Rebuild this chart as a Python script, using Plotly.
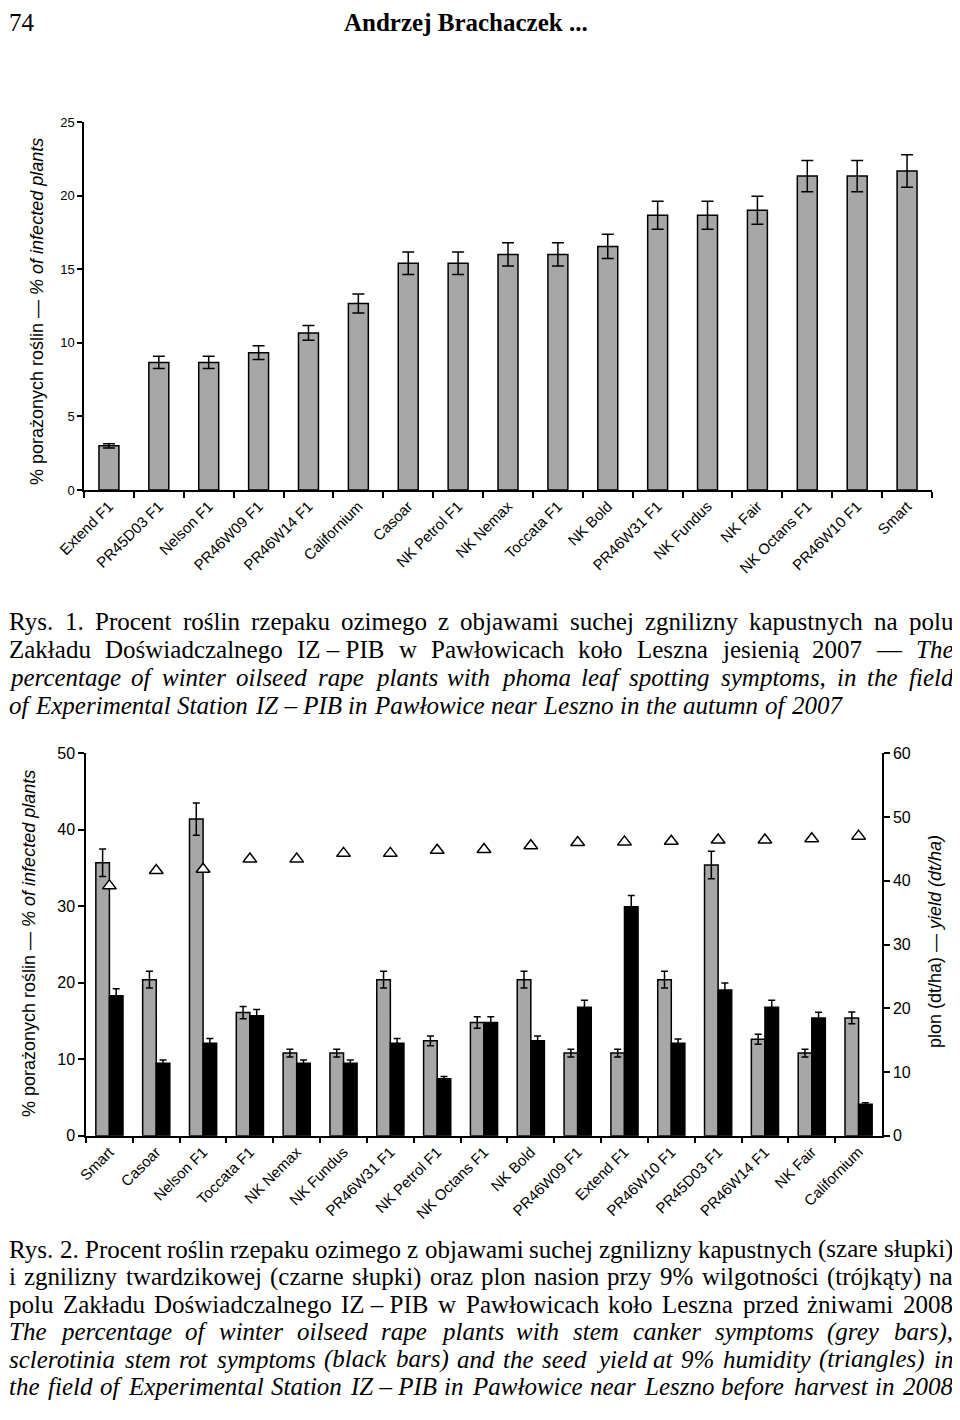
import plotly.graph_objects as go

# page body has an 8px margin: the figure is drawn at (8, 8) in the window
PAGE_OFF = 8
FIG_W, FIG_H = 952, 1404

# ---------------- data: figure 1 ----------------
top_categories = ["Extend F1", "PR45D03 F1", "Nelson F1", "PR46W09 F1", "PR46W14 F1",
                  "Californium", "Casoar", "NK Petrol F1", "NK Nemax", "Toccata F1",
                  "NK Bold", "PR46W31 F1", "NK Fundus", "NK Fair", "NK Octans F1",
                  "PR46W10 F1", "Smart"]
top_infected = [3.0, 8.67, 8.67, 9.33, 10.67, 12.67, 15.4, 15.4, 16.0, 16.0,
                16.55, 18.67, 18.67, 19.0, 21.33, 21.33, 21.67]
top_err = [0.15, 0.42, 0.42, 0.47, 0.5, 0.65, 0.76, 0.76, 0.79, 0.79,
           0.83, 0.95, 0.95, 0.95, 1.06, 1.06, 1.1]
top_yticks = [0, 5, 10, 15, 20, 25]

# ---------------- data: figure 2 ----------------
bot_categories = ["Smart", "Casoar", "Nelson F1", "Toccata F1", "NK Nemax", "NK Fundus",
                  "PR46W31 F1", "NK Petrol F1", "NK Octans F1", "NK Bold", "PR46W09 F1",
                  "Extend F1", "PR46W10 F1", "PR45D03 F1", "PR46W14 F1", "NK Fair",
                  "Californium"]
stem_canker = [35.7, 20.4, 41.4, 16.1, 10.8, 10.8, 20.4, 12.4, 14.8, 20.4, 10.8,
               10.8, 20.4, 35.4, 12.6, 10.8, 15.4]
stem_canker_err = [1.8, 1.1, 2.1, 0.8, 0.5, 0.5, 1.1, 0.65, 0.75, 1.1, 0.5,
                   0.5, 1.1, 1.8, 0.65, 0.5, 0.77]
sclerotinia = [18.3, 9.46, 12.1, 15.7, 9.46, 9.46, 12.1, 7.45, 14.8, 12.4, 16.8,
               29.95, 12.1, 19.05, 16.8, 15.4, 4.1]
sclerotinia_err = [0.9, 0.45, 0.6, 0.8, 0.45, 0.45, 0.6, 0.3, 0.75, 0.65, 0.9,
                   1.45, 0.55, 0.9, 0.9, 0.75, 0.2]
seed_yield = [39.2, 41.6, 41.8, 43.4, 43.4, 44.3, 44.3, 44.8, 44.9, 45.5, 46.0,
              46.1, 46.2, 46.4, 46.4, 46.6, 47.0]
bot_left_ticks = [0, 10, 20, 30, 40, 50]
bot_right_ticks = [0, 10, 20, 30, 40, 50, 60]

# ---------------- texts ----------------
header_page = "74"
header_title = "Andrzej Brachaczek ..."
y_title_pct = "% porażonych roślin — <i>% of infected plants</i>"
y_title_yield = "plon (dt/ha) — <i>yield (dt/ha)</i>"

# each line: list of (text, italic), justify flag
caption1 = [
    ([("Rys. 1. Procent roślin rzepaku ozimego z objawami suchej zgnilizny kapustnych na polu", False)], True),
    ([("Zakładu Doświadczalnego IZ – PIB w Pawłowicach koło Leszna jesienią 2007 —", False), ("The", True)], True),
    ([("percentage of winter oilseed rape plants with phoma leaf spotting symptoms, in the field", True)], True),
    ([("of Experimental Station IZ – PIB in Pawłowice near Leszno in the autumn of 2007", True)], False),
]
caption2 = [
    ([("Rys. 2. Procent roślin rzepaku ozimego z objawami suchej zgnilizny kapustnych (szare słupki)", False)], True),
    ([("i zgnilizny twardzikowej (czarne słupki) oraz plon nasion przy 9% wilgotności (trójkąty) na", False)], True),
    ([("polu Zakładu Doświadczalnego IZ – PIB w Pawłowicach koło Leszna przed żniwami 2008", False)], True),
    ([("The percentage of winter oilseed rape plants with stem canker symptoms (grey bars),", True)], True),
    ([("sclerotinia stem rot symptoms (black bars) and the seed yield at 9% humidity (triangles) in", True)], True),
    ([("the field of Experimental Station IZ – PIB in Pawłowice near Leszno before harvest in 2008", True)], True),
]

GREY = "#a7a7a7"
SANS = "Liberation Sans, Arial, sans-serif"
SERIF = "Liberation Serif, Times New Roman, serif"


def px_x(p):
    return (p - PAGE_OFF) / FIG_W


def px_y(p):
    return 1 - (p - PAGE_OFF) / FIG_H


fig = go.Figure()

# figure 1 bars
fig.add_trace(go.Bar(
    x=top_categories, y=top_infected, width=0.4,
    marker=dict(color=GREY, line=dict(color="black", width=1.5)),
    error_y=dict(type="data", array=top_err, color="black", thickness=1.5, width=6),
    xaxis="x", yaxis="y", showlegend=False, hoverinfo="skip"))

# figure 2 bars
fig.add_trace(go.Bar(
    x=bot_categories, y=stem_canker, width=0.29, offset=-0.29,
    marker=dict(color=GREY, line=dict(color="black", width=1.5)),
    error_y=dict(type="data", array=stem_canker_err, color="black", thickness=1.5, width=3.5),
    xaxis="x2", yaxis="y2", showlegend=False, hoverinfo="skip"))
fig.add_trace(go.Bar(
    x=bot_categories, y=sclerotinia, width=0.29, offset=0,
    marker=dict(color="black", line=dict(color="black", width=1.5)),
    error_y=dict(type="data", array=sclerotinia_err, color="black", thickness=1.5, width=3.5),
    xaxis="x2", yaxis="y2", showlegend=False, hoverinfo="skip"))
fig.add_trace(go.Scatter(
    x=bot_categories, y=seed_yield, mode="markers",
    marker=dict(symbol="triangle-up", size=12, color="white", line=dict(color="black", width=1.5)),
    xaxis="x2", yaxis="y3", showlegend=False, hoverinfo="skip"))

axis_common = dict(showline=True, linecolor="black", linewidth=1.5, showgrid=False,
                   zeroline=False, ticks="outside", tickcolor="black", tickwidth=1.5,
                   automargin=False)

fig.update_layout(
    width=FIG_W, height=FIG_H, margin=dict(l=0, r=0, t=0, b=0, autoexpand=False),
    paper_bgcolor="white", plot_bgcolor="white", barmode="overlay",
    font=dict(family=SANS, color="black"),
    xaxis=dict(domain=[px_x(84), px_x(932)], anchor="y", type="category",
               range=[-0.5, 16.5], tickson="boundaries", ticklen=6, tickangle=-45,
               tickfont=dict(size=15, family=SANS), **axis_common),
    yaxis=dict(domain=[px_y(490), px_y(122)], anchor="x", range=[0, 25],
               tickvals=top_yticks, ticklen=5, tickfont=dict(size=13, family=SANS),
               **axis_common),
    xaxis2=dict(domain=[px_x(86), px_x(882)], anchor="y2", type="category",
                range=[-0.5, 16.5], tickson="boundaries", ticklen=6, tickangle=-45,
                tickfont=dict(size=15, family=SANS), **axis_common),
    yaxis2=dict(domain=[px_y(1135.7), px_y(753.3)], anchor="x2", range=[0, 50],
                tickvals=bot_left_ticks, ticklen=6, tickfont=dict(size=16, family=SANS),
                **axis_common),
    yaxis3=dict(overlaying="y2", side="right", anchor="x2", range=[0, 60],
                tickvals=bot_right_ticks, ticklen=6, tickfont=dict(size=16, family=SANS),
                **axis_common),
)

annotations = []

# axis titles
annotations.append(dict(x=px_x(37), y=px_y(312), xref="paper", yref="paper",
                        text=y_title_pct, textangle=-90, showarrow=False,
                        font=dict(size=18, family=SANS), xanchor="center", yanchor="middle"))
annotations.append(dict(x=px_x(29), y=px_y(944), xref="paper", yref="paper",
                        text=y_title_pct, textangle=-90, showarrow=False,
                        font=dict(size=18, family=SANS), xanchor="center", yanchor="middle"))
annotations.append(dict(x=px_x(935), y=px_y(942), xref="paper", yref="paper",
                        text=y_title_yield, textangle=-90, showarrow=False,
                        font=dict(size=18, family=SANS), xanchor="center", yanchor="middle"))

# header (kept fully inside the drawable area)
annotations.append(dict(x=px_x(8), y=px_y(8), xref="paper", yref="paper", text=header_page,
                        showarrow=False, xanchor="left", yanchor="top", borderpad=0,
                        font=dict(size=25, family=SERIF)))
annotations.append(dict(x=px_x(343), y=px_y(8), xref="paper", yref="paper",
                        text="<b>" + header_title + "</b>", showarrow=False, borderpad=0,
                        xanchor="left", yanchor="top", font=dict(size=25, family=SERIF)))

# ---- justified caption text (Times metrics, per 1000 em) ----
ROMAN = {' ': 250, '%': 833, '(': 333, ')': 333, ',': 250, '-': 333, '.': 250, '–': 500, '—': 1000,
         'A': 722, 'B': 667, 'C': 667, 'D': 722, 'E': 611, 'F': 556, 'G': 722, 'H': 722, 'I': 333,
         'J': 389, 'K': 722, 'L': 611, 'M': 889, 'N': 722, 'O': 722, 'P': 556, 'Q': 722, 'R': 667,
         'S': 556, 'T': 611, 'U': 722, 'V': 722, 'W': 944, 'X': 722, 'Y': 722, 'Z': 611,
         'a': 444, 'b': 500, 'c': 444, 'd': 500, 'e': 444, 'f': 333, 'g': 500, 'h': 500, 'i': 278,
         'j': 278, 'k': 500, 'l': 278, 'm': 778, 'n': 500, 'o': 500, 'p': 500, 'q': 500, 'r': 333,
         's': 389, 't': 278, 'u': 500, 'v': 500, 'w': 722, 'x': 500, 'y': 500, 'z': 444}
ITALIC = {' ': 250, '%': 833, '(': 333, ')': 333, ',': 250, '-': 333, '.': 250, '–': 500, '—': 889,
          'A': 611, 'B': 611, 'C': 667, 'D': 722, 'E': 611, 'F': 611, 'G': 722, 'H': 722, 'I': 333,
          'J': 444, 'K': 667, 'L': 556, 'M': 833, 'N': 667, 'O': 722, 'P': 611, 'Q': 722, 'R': 611,
          'S': 500, 'T': 556, 'U': 722, 'V': 611, 'W': 833, 'X': 611, 'Y': 556, 'Z': 556,
          'a': 500, 'b': 500, 'c': 444, 'd': 500, 'e': 444, 'f': 278, 'g': 500, 'h': 500, 'i': 278,
          'j': 278, 'k': 444, 'l': 278, 'm': 722, 'n': 500, 'o': 500, 'p': 500, 'q': 500, 'r': 389,
          's': 389, 't': 278, 'u': 500, 'v': 444, 'w': 667, 'x': 444, 'y': 444, 'z': 389}
BASE = {'ś': 's', 'ł': 'l', 'ą': 'a', 'ż': 'z', 'ó': 'o', 'ę': 'e', 'ń': 'n', 'ć': 'c', 'ź': 'z'}

CAP_FS = 25
LEFT, RIGHT = 8, 952


def word_w(word, italic):
    tab = ITALIC if italic else ROMAN
    tot = 0
    for ch in word:
        ch = BASE.get(ch, ch)
        tot += tab.get(ch, 500)
    return tot / 1000 * CAP_FS


def add_caption(lines, y0, step):
    for li, (segs, justify) in enumerate(lines):
        words = []
        for text, it in segs:
            toks = text.split(" ")
            merged = []
            i = 0
            while i < len(toks):
                if toks[i] == "IZ" and i + 2 < len(toks) and toks[i + 1] == "–":
                    merged.append("IZ – " + toks[i + 2])
                    i += 3
                else:
                    merged.append(toks[i])
                    i += 1
            words += [(w, it) for w in merged if w]
        widths = [word_w(w, it) for w, it in words]
        space = 250 / 1000 * CAP_FS
        if justify and len(words) > 1:
            gap = max((RIGHT - LEFT - sum(widths)) / (len(words) - 1), 0.15 * CAP_FS)
        else:
            gap = space * 1.1
        x = LEFT
        yc = y0 + li * step
        for (w, it), ww in zip(words, widths):
            annotations.append(dict(
                x=px_x(x), y=px_y(yc), xref="paper", yref="paper",
                text=("<i>%s</i>" % w) if it else w, showarrow=False,
                xanchor="left", yanchor="middle", borderpad=0,
                font=dict(size=CAP_FS, family=SERIF)))
            x += ww + gap


add_caption(caption1, 622, 27.7)
add_caption(caption2, 1249, 27.5)

fig.update_layout(annotations=annotations)
fig.write_html("out.html")
